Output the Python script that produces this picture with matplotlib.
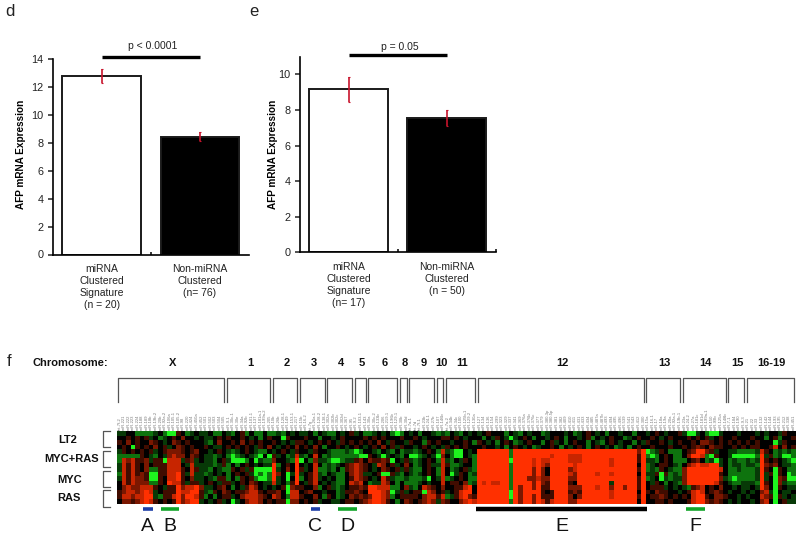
import matplotlib
matplotlib.use("Agg")
import matplotlib.pyplot as plt
import numpy as np
from matplotlib.colors import LinearSegmentedColormap

plt.rcParams['font.family'] = ['Liberation Sans', 'DejaVu Sans']

# bar panels
d_labels = ["miRNA\nClustered\nSignature\n(n = 20)", "Non-miRNA\nClustered\n(n= 76)\n "]
d_values = [12.8, 8.45]
d_errors = [0.5, 0.33]
e_labels = ["miRNA\nClustered\nSignature\n(n= 17)", "Non-miRNA\nClustered\n(n = 50)\n "]
e_values = [9.17, 7.55]
e_errors = [0.71, 0.47]

# heatmap, one list per chromosome, 16 rows each
# G g d = green levels, . = black, r m R O = red levels
level = {'G': -0.95, 'g': -0.45, 'd': -0.22, '.': 0.0, 'r': 0.25, 'm': 0.48, 'R': 0.78, 'O': 1.0}

cells_X = ["dd..ggggd.gGGr.gd.dd.gg.", "..r.r.rd.gd.r.m..d.dd.r.", "r.m.r..mr.d.mr.r...dg.m.", ".r.Gr.r.m.rd.mr.r..r.dd.",
           "dr.r.r.rd.rmmmr.rm..d.r.", "gggggr.dg.dmRmm.mr.ddgd.", "gRmRrrmdrrGRRRdrmd.ddg.r", "dRrRr.m.rrrRRR.dRddddgdr",
           "dRrRr.mggrrRRRr.Rrddg.dg", "gRrRrmrGGrrRROrdRddgd.d.", "dRrRmmrGGr.RROr.mdd.dgrr", ".RrRmmmggr.ORRrdrrd.r.dr",
           ".mRmmRRRr.drrOmRROmdd.rm", "rmRRmRORd.rrrORROOrdgr.m", "rRRmRROOdgrrROmOORrg.g.r", ".mmrmRORr.r.rOmROOd.d.rd"]
cells_1 = ["dg.rg.gg.g", "r..r.d.g.r", ".r.m.r.r..", "r.r.r.dr.m", "dgd.r.dgg.", "gGgd.dgG.G", "dGGGg.Gdgg", "g.g.r.d.dd",
           "gr.rdrGGGG", "g.r.rdGgGg", "g.gr.rgGGg", "rd.r.mr.dd", ".g.drRm.d.", "r.rrmRRr.r", "rd.mRRRmr.", ".Gd.mRRm.r"]
cells_2 = ["gdg.d.", "..Gr..", "r.d.dr", ".d.r.m", "d.r.dr", "rd.gdR", "m..dgO", "Og.r.O",
           "Od.m.O", "Om.GdO", "Od.G.O", "Rd.grO", "d.rGmr", "rm.GRR", "Rm.gRR", ".rrGmm"]
cells_3 = ["dd.g.d", ".r..g.", "r.d.r.", ".r.m.g", "..dr..", "dg.R.g", "G.gmdd", ".d.R.g",
           "rd.Rgg", "d.rRdg", "g.rRd.", ".drR.d", "r..mg.", ".rm..d", "r..m.g", ".r.rd."]
cells_4 = ["gg.d.r", ".d.r..", "r.dr.r", "..r.d.", "dgggdg", "dggggg", "gGGgdd", "dgd.rm",
           "dg.grm", ".dgg.m", "d.gg.r", ".dgg.R", "rdgd.r", "..gdrr", "r.gd.m", ".dd.rr"]
cells_5 = ["d.g", "..r", ".r.", "r.d", "Gg.", "gGG", "rm.", "Rmr", "Rmr", "Rmd", "Rmr", "mR.", "rmr", "mr.", "rmr", ".rm"]
cells_6 = ["gd.d.gG", ".r.r...", "r.m.dr.", ".r.m.rd", ".dg.dg.", "r.dGd.d", "mrrmrG.", ".dRm.rd",
           ".d.mr.r", "d.rGGrd", ".d.Rrdg", "gddRm.g", "OORRRgg", "OOORmGd", "mOORmg.", "ROORr.g"]
cells_8 = ["g.", "r.", ".d", "r.", "gd", "g.", "dr", ".m", "dr", "g.", "gd", ".g", ".m", "rd", "rr", ".m"]
cells_9 = ["d.g..d", ".r.d..", "r..gr.", ".d.r.d", "dgd.r.", "GGgd.d", "dgd.r.", ".gd.rd",
           "dgg.r.", "dgd.r.", "gggdG.", "ggd.d.", "dg.Rmr", ".rrGRm", "rr.mRR", "r.rmRm"]
cells_10 = ["gd", ".r", "r.", ".d", "gR", "Gm", "gR", "dR", "gR", "gR", "dR", ".R", ".m", ".r", "rR", "dm"]
cells_11 = ["g.dg.d.", "r.r.d..", ".d..r.g", "r.r.r..", "dgGG.d.", ".gGG.dg", "dg.dr.g", "rggd..g",
            ".gd.rdg", ".Gdr.gd", "gd.r.gg", ".rr.mgd", "..rrRO.", "d.rROO.", "gdrROmr", "r..mROR"]
cells_12 = ["d.r...g.dg.d..gd...d.gd.r.d.g..d..g..",
            ".g.dr.dGd.r.g..d.r.g..d.rg.d.r..gd.r.",
            "r.d.g.r.gd.r..g.rd.g.r..g.dg.r.d..g.d",
            ".r..d.g.r.d.gd..r.g.d.r.g.r.d.gd.g.r.",
            "OOOOOO OgOOOO OOOOOO OOOOOO OOOOOO OOOOOm O",
            "OOOOOO OgOOOO OOOORO OORRRO OOOOOO OOOOOr O",
            "OOOOOO OGOOOO RORROO OORRRO OOOOOR OOOOOr O",
            "OOOOOO OgOOOO RORmOO OOOROO OOOOOR OOOOO. O",
            "OOOOOO OgOOOO mOm.OO OOmROO OOOOOO OOOOOr O",
            "OOOOOO OgOOOO mOm.OO OORmOO OOROOR OOOOO. O",
            "OOOOOO OgOOOm mRmmOO OOmmOO OOOOOO OOOOOr O",
            "ORORRO OgOOOO mOmrOO OOr.OO OOOOOd OOOOOr O",
            "OOOOOO OgOmOO mOrrOO OOmmmO OOROOm OOmOOr O",
            "OOOOOO OGOmOO OOr.rO OOrmrO OOOOOR OOOOO. O",
            "OOOOOO OGOmOO mOrrrO OOm.mO OOOOOR OOOOOr O",
            "OOOOOO OgOmOO mORrRO OOmmOO OOOOOO OOOOO. O"]
cells_13 = ["d.r.d..r", ".r.d.r..", "r..r.d.r", ".r...r..", "Ggdr.ggg", "gGg.r.gg", "ddg.r.gg", "gd.rr.dg",
            "gdgr.dgg", "ddrGrgdg", "gd.Gdgdd", ".dr.g.dg", ".rrrd.d.", "r.mrr..d", ".rrmr.r.", "..rr.r.."]
cells_14 = ["dGGd.gGGd.", ".r.r.rd.r.", "..r.mmr.r.", "r.rmr.mrr.", ".rmOOmrd..", ".mOORgGr..", "g.rm.gdGd.", ".mRORROOd.",
            "mOOOOOOOR.", "mOOOOOOOr.", "mOOOOOOOmd", "mOOOOOORr.", "dgrmR.r.m.", ".rROR.rmr.", "r.ROOr.mmr", ".rROOmrmr."]
cells_15 = ["..d.", ".r..", "r.r.", ".r.r", "ddgg", "dGGG", "gdgg", "gddg",
            "ggdg", "gggg", "gGgg", "dggd", ".d.d", "d..d", "..d.", "d.d."]
cells_16 = ["..d.d..dr..", ".r..g.rg..r", "r.r...Gdr..", ".rr..rR.m.r", "ggdRr.gdgdg", "GGgOdrgdGGg", "dgdOr.r.dgG", "ddgOmrm.ddg",
            "ggdOr.Gr.gg", "ggdOdrGr.Gg", "ggdOd.GmrGG", "ddgOr.Gmdgg", "d.dOm.Gr.dd", ".d.mRdG.dd.", "d..RmrGrd.d", ".d.mR.G.rdd"]

chrom_names = ["X", "1", "2", "3", "4", "5", "6", "8", "9", "10", "11", "12", "13", "14", "15", "16-19"]
chrom_cells = [cells_X, cells_1, cells_2, cells_3, cells_4, cells_5, cells_6, cells_8,
               cells_9, cells_10, cells_11, cells_12, cells_13, cells_14, cells_15, cells_16]

mirna_names = """let-7f-2 miR-221 miR-222 miR-223 miR-224 miR-188 miR-189 miR-18b miR-19b-2 miR-20b miR-92a-2 miR-106a
miR-105-1 miR-105-2 miR-98 miR-220 miR-424 miR-450a miR-452 miR-501 miR-502 miR-503 miR-504 miR-505
miR-9-1 miR-30c-1 miR-30e miR-34a miR-92b miR-101-1 miR-137 miR-181a-1 miR-199a-2 miR-205
miR-10b miR-26b miR-128-1 miR-149 miR-153-1 miR-217
miR-15b miR-16-2 let-7g miR-26a-1 miR-128-2 miR-138-1
miR-302a miR-302b miR-302c miR-302d miR-367 miR-95
miR-9-2 miR-103-1 miR-143
miR-30a miR-30c-2 miR-133b miR-206 miR-219-1 miR-196b miR-129-1
miR-30b miR-30d
let-7a-1 let-7d let-7f-1 miR-23b miR-24-1 miR-27b
miR-107 miR-146b
let-7a-2 miR-34b miR-34c miR-100 miR-125b-1 miR-129-2 miR-130a
miR-127 miR-134 miR-136 miR-154 miR-299 miR-323 miR-329 miR-337 miR-341 miR-369 miR-376a miR-376b miR-376c
miR-377 miR-379 miR-380-3p miR-380-5p miR-381 miR-382 miR-409 miR-410 miR-411 miR-431 miR-433 miR-434 miR-485
miR-487a miR-487b miR-493 miR-494 miR-495 miR-496 miR-539 miR-541 miR-543 miR-412 miR-300
miR-15a miR-16-1 miR-17 miR-18a miR-19a miR-20a miR-92a-1 miR-19b-1
miR-23a miR-24-2 miR-27a miR-181c miR-181d miR-199a-1 miR-150 miR-99b miR-125a miR-148b
miR-7-1 miR-184 miR-190 miR-9-3
miR-21 miR-22 miR-33 miR-132 miR-142 miR-144 miR-193 miR-195 miR-212 miR-338 miR-451""".split()

group_names = ["LT2", "MYC+RAS", "MYC", "RAS"]
group_rows = [(0, 3.6), (4.4, 8), (8.8, 12.4), (13, 16.7)]
marker_names = ["A", "B", "C", "D", "E", "F"]
marker_cols = [(5.7, 7.8), (9.7, 13.6), (42.5, 44.6), (48.6, 52.7), (78.8, 116.3), (124.8, 129.1)]
marker_colors = ["#1f3fa8", "#12a52a", "#1f3fa8", "#12a52a", "black", "#12a52a"]

W, H = 800, 538
fig = plt.figure(figsize=(W / 100, H / 100), dpi=100)


def px_axes(left, top, right, bottom):
    return fig.add_axes([left / W, 1 - bottom / H, (right - left) / W, (bottom - top) / H])


def draw_bars(ax, values, errors, labels, ymax, yticks, xticks, p_text, p_y, p_text_y):
    ax.bar([0.5, 1.5], values, width=0.8, color=['white', 'black'], edgecolor='#1a1a1a', linewidth=1.4)
    ax.errorbar([0.5, 1.5], values, yerr=errors, fmt='none', ecolor='#c8142c', elinewidth=1.2, capsize=0.8, capthick=0.8)
    ax.set_xlim(0, 2)
    ax.set_ylim(0, ymax)
    ax.set_yticks(yticks)
    ax.tick_params(axis='y', labelsize=7.8, length=3.5, width=1.1, pad=3, colors='#222222')
    ax.set_xticks(xticks)
    ax.set_xticklabels([])
    ax.tick_params(axis='x', which='major', direction='in', length=2.5, width=1.1)
    ax.set_xticks([0.5, 1.5], minor=True)
    ax.set_xticklabels(labels, minor=True, fontsize=7.5, color='#222222', linespacing=1.22)
    ax.tick_params(axis='x', which='minor', length=0, pad=7)
    for side in ['top', 'right']:
        ax.spines[side].set_visible(False)
    for side in ['left', 'bottom']:
        ax.spines[side].set_linewidth(1.2)
    ax.set_ylabel("AFP mRNA Expression", fontsize=7.2, fontweight='bold')
    ax.plot([0.5, 1.5], [p_y, p_y], color='black', linewidth=2.4, clip_on=False, solid_capstyle='butt')
    ax.text(1.02, p_text_y, p_text, fontsize=7.5, ha='center', va='center', color='#222222')


ax_d = px_axes(52.5, 59.3, 249, 254.5)
draw_bars(ax_d, d_values, d_errors, d_labels, 14, range(0, 15, 2), [1], "p < 0.0001", 14.17, 14.95)
ax_d.yaxis.set_label_coords(-0.137, 0.515)
ax_e = px_axes(299.5, 56.7, 495.7, 252.5)
draw_bars(ax_e, e_values, e_errors, e_labels, 11, range(0, 11, 2), [1, 2], "p = 0.05", 11.08, 11.55)
ax_e.yaxis.set_label_coords(-0.112, 0.5)

fig.text(5 / W, 1 - 11 / H, "d", fontsize=12, va='center', color='#222222')
fig.text(249 / W, 1 - 11 / H, "e", fontsize=12, va='center', color='#222222')

# heatmap panel
rows = []
for r in range(16):
    line = "".join(block[r].replace(" ", "") for block in chrom_cells)
    rows.append([level[c] for c in line])
matrix = np.array(rows)

cmap = LinearSegmentedColormap.from_list("gbr", ["#20ff20", "#000000", "#ff3000"])
ax_f = px_axes(117, 431, 796, 503.5)
ax_f.pcolormesh(np.arange(matrix.shape[1] + 1), np.arange(17), matrix, cmap=cmap, vmin=-1, vmax=1)
ax_f.set_xlim(0, matrix.shape[1])
ax_f.set_ylim(16, 0)
ax_f.axis('off')

start = 0
for name, block in zip(chrom_names, chrom_cells):
    size = len(block[0].replace(" ", ""))
    left, right = start + 0.15, start + size - 0.45
    ax_f.plot([left, left, right, right], [-6.3, -11.6, -11.6, -6.3], color='#555555', linewidth=0.9, clip_on=False)
    ax_f.text(start + size / 2 + 0.2, -14.9, name, fontsize=8, fontweight='bold', ha='center', va='center', color='#111111')
    start += size

for i, name in enumerate(mirna_names):
    ax_f.text(i + 0.5, -0.25, name, fontsize=3, rotation=90, ha='center', va='bottom', color='#777777', clip_on=False)

group_x = [-10.8, -9.9, -10.4, -10.5]
for name, (top, bottom), x, y in zip(group_names, group_rows, group_x, [2.0, 6.2, 10.8, 14.8]):
    ax_f.plot([-1.5, -3, -3, -1.5], [top, top, bottom, bottom], color='#555555', linewidth=0.9, clip_on=False)
    ax_f.text(x, y, name, fontsize=8, fontweight='bold', ha='center', va='center', color='#111111')

for name, (left, right), color in zip(marker_names, marker_cols, marker_colors):
    thick = 3.2 if color == 'black' else 2.6
    ax_f.plot([left, right], [17.15, 17.15], color=color, linewidth=thick, clip_on=False, solid_capstyle='butt')
    ax_f.text((left + right) / 2, 21, name, fontsize=14, ha='center', va='center', color='#111111')

ax_f.text(-10.3, -14.9, "Chromosome:", fontsize=8, fontweight='bold', ha='center', va='center', color='#111111')
ax_f.text(-23.6, -15.4, "f", fontsize=12, ha='center', va='center', color='#222222')

fig.savefig("out.png", dpi=100)
plt.close(fig)
